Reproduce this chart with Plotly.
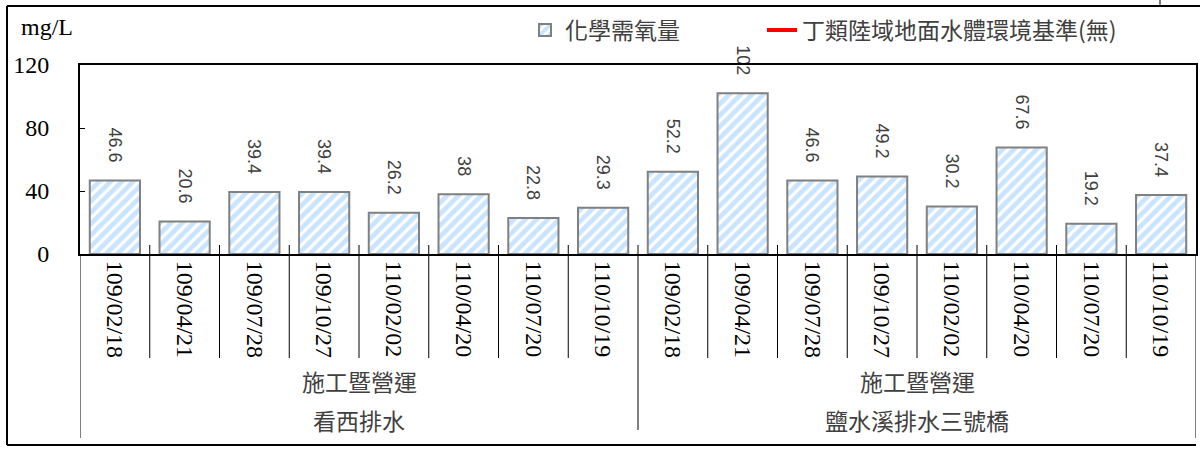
import plotly.graph_objects as go

dates = ["109/02/18", "109/04/21", "109/07/28", "109/10/27",
         "110/02/02", "110/04/20", "110/07/20", "110/10/19"]
sites = ["看西排水", "鹽水溪排水三號橋"]
phase = "施工暨營運"
cod_kanxi = [46.6, 20.6, 39.4, 39.4, 26.2, 38, 22.8, 29.3]
cod_yanshui = [52.2, 102, 46.6, 49.2, 30.2, 67.6, 19.2, 37.4]
series_name = "化學需氧量"
std_name = "丁類陸域地面水體環境基準(無)"
unit = "mg/L"

values = cod_kanxi + cod_yanshui
labels = dates + dates
xs = list(range(len(values)))

W, H = 1200, 451
L, R, T, B = 80, 4, 65, 197
ph = H - T - B

def py(px):
    return (H - B - px) / ph

def pxx(px):
    return (px - L) / (W - L - R)

serif = "Liberation Serif, Times New Roman, serif"
cjk = "Noto Sans CJK TC, sans-serif"

fig = go.Figure()
fig.add_trace(go.Bar(
    x=xs, y=values, name=series_name, legend="legend",
    marker=dict(color="white", line=dict(color="#808080", width=2),
                pattern=dict(shape="/", fgcolor="#93c9ff", bgcolor="white",
                             size=8, solidity=0.6)),
    texttemplate="%{y}\u00a0\u00a0\u00a0", textposition="outside", textangle=90,
    textfont=dict(family="Liberation Sans, Arial, sans-serif", size=18, color="#404040"),
    cliponaxis=False, width=0.72,
))
fig.add_trace(go.Scatter(x=[None], y=[None], mode="lines", name=std_name, legend="legend2",
                         line=dict(color="#ff0000", width=4)))

shapes = []
n = len(values)
for i in range(n - 1):
    b = i + 0.5
    if i == len(dates) - 1:
        y1 = py(430)
    else:
        y1 = py(358)
    shapes.append(dict(type="line", xref="x", yref="paper", x0=b, x1=b,
                       y0=py(245), y1=y1, line=dict(color="black", width=1)))
for b in (-0.5, n - 0.5):
    shapes.append(dict(type="line", xref="x", yref="paper", x0=b, x1=b,
                       y0=0, y1=py(438), line=dict(color="black", width=1)))
# page frame
shapes += [
    dict(type="line", xref="paper", yref="paper", x0=pxx(7), x1=pxx(1200), y0=py(6), y1=py(6),
         line=dict(color="black", width=2)),
    dict(type="line", xref="paper", yref="paper", x0=pxx(7), x1=pxx(7), y0=py(6), y1=py(445),
         line=dict(color="black", width=2)),
    dict(type="line", xref="paper", yref="paper", x0=pxx(7), x1=pxx(1196), y0=py(445), y1=py(445),
         line=dict(color="black", width=2)),
    dict(type="line", xref="paper", yref="paper", x0=pxx(1160), x1=pxx(1160), y0=py(0), y1=py(6),
         line=dict(color="black", width=1)),
]

annotations = []
for gi, site in enumerate(sites):
    cx = gi * len(dates) + (len(dates) - 1) / 2
    annotations.append(dict(x=cx, xref="x", y=py(381), yref="paper", text=phase,
                            xanchor="center", yanchor="middle", showarrow=False,
                            font=dict(family=cjk, size=23, color="#404040")))
    annotations.append(dict(x=cx, xref="x", y=py(420), yref="paper", text=site,
                            xanchor="center", yanchor="middle", showarrow=False,
                            font=dict(family=cjk, size=23, color="#404040")))
annotations.append(dict(x=pxx(47), xref="paper", y=py(27), yref="paper", text=unit,
                        xanchor="center", yanchor="middle", showarrow=False,
                        font=dict(family=serif, size=24, color="black")))

legend_common = dict(orientation="h", xref="container", yref="container",
                     xanchor="left", yanchor="middle", y=1 - 30 / H,
                     font=dict(family=cjk, size=23, color="#404040"),
                     bgcolor="rgba(0,0,0,0)")

fig.update_layout(
    width=W, height=H, margin=dict(l=L, r=R, t=T, b=B, autoexpand=False),
    paper_bgcolor="white", plot_bgcolor="white",
    showlegend=True,
    legend=dict(x=525 / W, **legend_common),
    legend2=dict(x=762 / W, **legend_common),
    shapes=shapes, annotations=annotations,
)
fig.update_xaxes(range=[-0.5, n - 0.5], tickvals=xs, ticktext=labels, tickangle=90,
                 tickfont=dict(family=serif, size=24, color="black"),
                 showline=True, linecolor="black", linewidth=2, mirror=True,
                 showgrid=False, zeroline=False, ticks="", automargin=False)
fig.update_yaxes(range=[0, 120], dtick=40, tickfont=dict(family=serif, size=24, color="black"),
                 showline=True, linecolor="black", linewidth=2, mirror=True,
                 showgrid=False, zeroline=False, ticks="inside", ticklen=5, tickcolor="black",
                 ticklabelstandoff=24, automargin=False)

fig.write_html("out.html", config={"displayModeBar": False},
               post_script="document.body.style.margin='0';")
